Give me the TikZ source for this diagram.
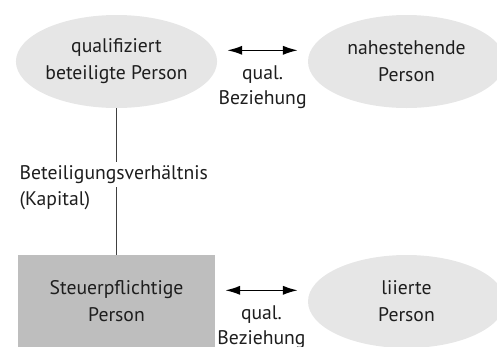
\documentclass[tikz,border=0pt]{standalone}
\usepackage{fontspec}
\setmainfont{PT Sans}
\usetikzlibrary{positioning, shapes.geometric, arrows.meta}

\definecolor{hellgrau}{HTML}{E6E6E6}
\definecolor{mittelgrau}{HTML}{BEBEBE}
\definecolor{schrift}{HTML}{1E1E1E}

\begin{document}
\begin{tikzpicture}[
        font=\fontsize{14}{19.2}\selectfont, text=schrift,
        person/.style={ellipse, fill=hellgrau, minimum width=4.925cm, minimum height=2.325cm, inner sep=0pt, align=center},
        stpfl/.style={rectangle, fill=mittelgrau, minimum width=4.925cm, minimum height=2.325cm, inner sep=0pt, align=center},
        pfeil/.style={{Latex[length=10.5pt,width=6.5pt]}-{Latex[length=10.5pt,width=6.5pt]}, line width=1pt, shorten <=0.25cm, shorten >=0.25cm},
        bez/.style={align=center, font=\fontsize{14}{17.8}\selectfont}
    ]
    \useasboundingbox (0,0) rectangle (12.425,-8.65);
    \clip (0,0) rectangle (12.425,-8.65);
    % Personen
    \node[person] (qbp) at (2.9125,-1.5375) {qualifiziert\\beteiligte Person};
    \node[person] (nah) at (10.1625,-1.5375) {nahestehende\\Person};
    \node[stpfl] (stp) at (2.9125,-7.5375) {Steuerpflichtige\\Person};
    \node[person] (lie) at (10.1625,-7.5375) {liierte\\Person};
    % Beteiligung
    \draw[line width=0.9pt, draw=black!75] (qbp.south) -- (stp.north);
    \node[anchor=base west, fill=white, inner xsep=1pt, inner ysep=2.5pt] (btv) at (0.45,-4.48) {Beteiligungsverhältnis};
    \node[anchor=base west, inner xsep=1pt] (kap) at (0.45,-5.125) {(Kapital)};
    % Beziehungen
    \draw[pfeil] ([yshift=0.28cm]qbp.east) -- ([yshift=0.28cm]nah.west)
        node[midway, below=7pt, bez] (qb1) {qual.\\Beziehung};
    \draw[pfeil] ([yshift=0.28cm]stp.east) -- ([yshift=0.28cm]lie.west)
        node[midway, below=7pt, bez] (qb2) {qual.\\Beziehung};
\end{tikzpicture}
\end{document}
